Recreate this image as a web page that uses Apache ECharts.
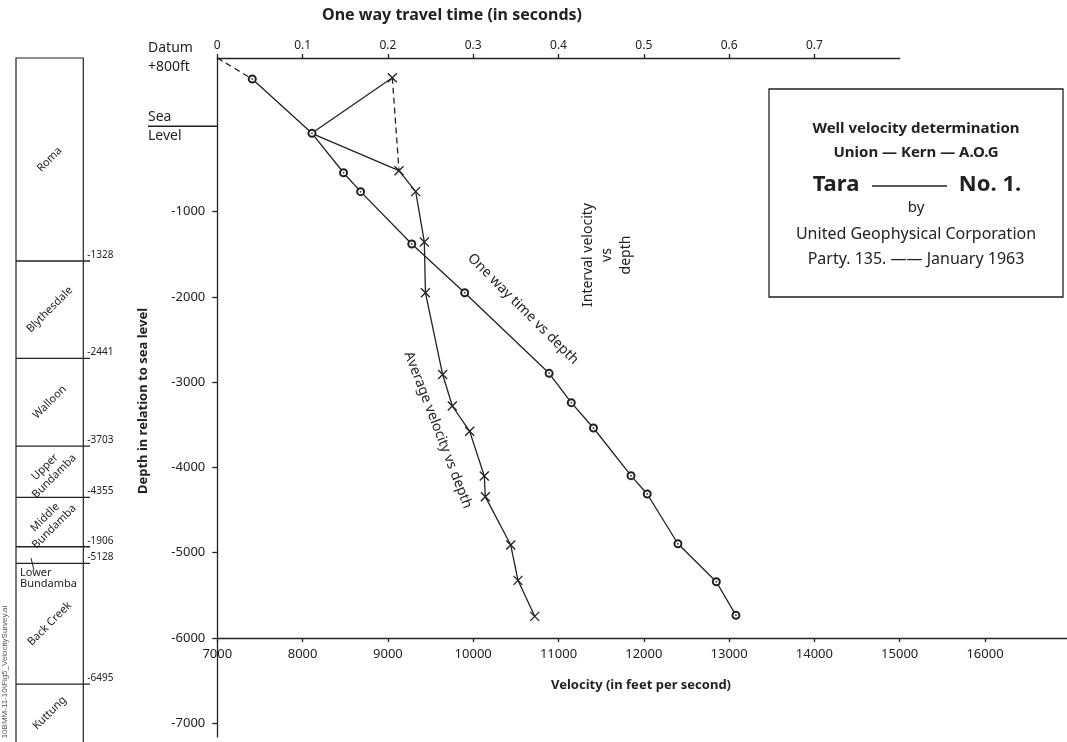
<!DOCTYPE html>
<html>
<head>
<meta charset="utf-8">
<script src="https://cdn.jsdelivr.net/npm/echarts@6/dist/echarts.min.js"></script>
<style>
  html, body { margin: 0; background: #fff; }
  #chart { width: 1067px; height: 742px; }
</style>
</head>
<body>
<div id="chart"></div>
<script>
// one way travel time (s) vs depth (ft, relative to sea level)
const owtTime  = [0.041, 0.111, 0.148, 0.168, 0.228, 0.290, 0.389, 0.415, 0.441, 0.485, 0.504, 0.540, 0.585, 0.608];
const owtDepth = [554, -83, -545, -767, -1381, -1952, -2897, -3241, -3538, -4097, -4312, -4895, -5340, -5734];
// dashed lead-in from the datum
const datumTime  = [0, 0.041];
const datumDepth = [800, 554];

// average velocity (ft/s) vs depth, first point is the shot point (no marker)
const avgVel   = [8107, 9130, 9326, 9427, 9440, 9642, 9755, 9959, 10130, 10142, 10440, 10525, 10721];
const avgDepth = [-83, -521, -767, -1357, -1952, -2911, -3280, -3577, -4101, -4343, -4910, -5324, -5746];
// upper branch above sea level and the dashed tie back down
const upperVel   = [8107, 9052];
const upperDepth = [-83, 569];
const tieVel     = [9052, 9130];
const tieDepth   = [569, -521];

// tick labels
const timeTicks  = [0, 0.1, 0.2, 0.3, 0.4, 0.5, 0.6, 0.7];
const velTicks   = [7000, 8000, 9000, 10000, 11000, 12000, 13000, 14000, 15000, 16000];
const depthTicks = [-1000, -2000, -3000, -4000, -5000, -6000, -7000];

// stratigraphic column (drawn depth, printed label)
const boundaryDepth  = [-1580, -2721, -3750, -4351, -4930, -5125, -6540];
const boundaryLabels = ['-1328', '-2441', '-3703', '-4355', '-1906', '-5128', '-6495'];
const formations = ['Roma', 'Blythesdale', 'Walloon', 'Upper\nBundamba', 'Middle\nBundamba',
                    'Lower\nBundamba', 'Back Creek', 'Kuttung'];
const columnTop = 800, columnBase = -7220;

const INK = '#222';
const FONT = '"Noto Sans", "Open Sans", sans-serif';
const K = 580 / 6800;            // px per ft on the depth scale
const depthAxisMin = -7160, columnMin = -8000;

const pairs = (xs, ys) => xs.map((x, i) => [x, ys[i]]);
const crossPath = 'path://M0,0L10,10M10,0L0,10';
const noZero = { onZero: false, lineStyle: { color: INK, width: 1.3 } };

const chart = echarts.init(document.getElementById('chart'));

const tops = [columnTop].concat(boundaryDepth);
const bottoms = boundaryDepth.concat([columnBase]);

function renderBoundary(params, api) {
  const i = params.dataIndex;
  const d = api.value(1);
  const p0 = api.coord([0, d]);
  const p1 = api.coord([1, d]);
  const ext = api.coord([1.1, d]);
  return {
    type: 'group',
    children: [
      { type: 'line', shape: { x1: p0[0], y1: p0[1], x2: ext[0], y2: p0[1] },
        style: { stroke: INK, lineWidth: 1.3 } },
      { type: 'text', x: p1[0] + 4, y: p0[1] - 1,
        style: { text: boundaryLabels[i], font: '10px ' + FONT, fill: INK,
                 align: 'left', verticalAlign: 'bottom', textAlign: 'left', textVerticalAlign: 'bottom' } }
    ]
  };
}

function renderFormation(params, api) {
  const i = params.dataIndex;
  const a = api.coord([0, api.value(1)]);
  const b = api.coord([1, api.value(2)]);
  const name = formations[i];
  if (b[1] - a[1] < 30) {
    // thin layer: label sits below with a small leader
    return {
      type: 'group',
      children: [
        { type: 'line', shape: { x1: a[0] + 15, y1: (a[1] + b[1]) / 2 + 3, x2: a[0] + 18, y2: b[1] + 7 },
          style: { stroke: INK, lineWidth: 1 } },
        { type: 'text', x: a[0] + 4, y: b[1] + 4,
          style: { text: name, font: '11px ' + FONT, fill: INK, lineHeight: 11,
                   align: 'left', verticalAlign: 'top', textAlign: 'left', textVerticalAlign: 'top' } }
      ]
    };
  }
  return {
    type: 'text', x: (a[0] + b[0]) / 2, y: (a[1] + b[1]) / 2, rotation: Math.PI / 4,
    style: { text: name, font: '11px ' + FONT, fill: INK, lineHeight: 13,
             align: 'center', verticalAlign: 'middle', textAlign: 'center', textVerticalAlign: 'middle' }
  };
}

const gridBase = { outerBoundsMode: 'none', containLabel: false };

chart.setOption({
  animation: false,
  backgroundColor: '#fff',
  textStyle: { fontFamily: FONT, color: INK },
  grid: [
    Object.assign({ left: 217.3, top: 58, width: 853, height: 580 }, gridBase),
    Object.assign({ left: 217.3, top: 58, width: 682.4, height: 580 }, gridBase),
    Object.assign({ left: 217.3, top: 58, width: 1, height: (800 - depthAxisMin) * K }, gridBase),
    Object.assign({ left: 16, top: 58, width: 67.3, height: (800 - columnMin) * K,
      show: true, borderColor: INK, borderWidth: 1.2, backgroundColor: 'transparent' }, gridBase)
  ],
  xAxis: [
    { gridIndex: 0, type: 'value', position: 'bottom', min: 7000, max: 17000,
      axisLine: noZero,
      axisTick: { customValues: velTicks, length: 4, lineStyle: { color: INK, width: 1.3 } },
      axisLabel: { customValues: velTicks, fontSize: 13, color: INK, margin: 10, formatter: v => String(v) },
      splitLine: { show: false } },
    { gridIndex: 1, type: 'value', position: 'top', min: 0, max: 0.8,
      axisLine: noZero,
      axisTick: { customValues: timeTicks, length: 4, lineStyle: { color: INK, width: 1.3 } },
      axisLabel: { customValues: timeTicks, fontSize: 12, color: INK, margin: 6,
                   formatter: v => (v === 0 ? '0' : v.toFixed(1)) },
      splitLine: { show: false } },
    { gridIndex: 2, type: 'value', show: false, min: 0, max: 1 },
    { gridIndex: 3, type: 'value', show: false, min: 0, max: 1 }
  ],
  yAxis: [
    { gridIndex: 0, type: 'value', show: false, min: -6000, max: 800 },
    { gridIndex: 1, type: 'value', show: false, min: -6000, max: 800 },
    { gridIndex: 2, type: 'value', min: depthAxisMin, max: 800,
      axisLine: Object.assign({ show: true }, noZero),
      axisTick: { customValues: depthTicks, length: 5, lineStyle: { color: INK, width: 1.3 } },
      axisLabel: { customValues: depthTicks, fontSize: 13, color: INK, margin: 12, formatter: v => String(v) },
      splitLine: { show: false } },
    { gridIndex: 3, type: 'value', show: false, min: columnMin, max: 800 }
  ],
  series: [
    { type: 'line', xAxisIndex: 1, yAxisIndex: 1, data: pairs(datumTime, datumDepth),
      symbol: 'none', lineStyle: { color: INK, width: 1.3, type: [6, 4] } },
    { type: 'line', name: 'One way time vs depth', xAxisIndex: 1, yAxisIndex: 1,
      data: pairs(owtTime, owtDepth), symbol: 'emptyCircle', symbolSize: 7,
      lineStyle: { color: INK, width: 1.3 },
      itemStyle: { color: INK, borderColor: INK, borderWidth: 1.5 }, z: 3 },
    { type: 'scatter', xAxisIndex: 1, yAxisIndex: 1, data: pairs(owtTime, owtDepth),
      symbolSize: 2, itemStyle: { color: INK }, z: 4 },
    { type: 'line', name: 'Average velocity vs depth', xAxisIndex: 0, yAxisIndex: 0,
      data: pairs(avgVel, avgDepth).map((p, i) => (i === 0 ? { value: p, symbol: 'none' } : p)),
      symbol: crossPath, symbolSize: 9,
      lineStyle: { color: INK, width: 1.3 },
      itemStyle: { color: 'rgba(0,0,0,0)', borderColor: INK, borderWidth: 1.3 } },
    { type: 'line', xAxisIndex: 0, yAxisIndex: 0,
      data: pairs(upperVel, upperDepth).map((p, i) => (i === 0 ? { value: p, symbol: 'none' } : p)),
      symbol: crossPath, symbolSize: 9,
      lineStyle: { color: INK, width: 1.3 },
      itemStyle: { color: 'rgba(0,0,0,0)', borderColor: INK, borderWidth: 1.3 } },
    { type: 'line', xAxisIndex: 0, yAxisIndex: 0, data: pairs(tieVel, tieDepth),
      symbol: 'none', lineStyle: { color: INK, width: 1.3, type: [6, 4] } },
    { type: 'custom', xAxisIndex: 3, yAxisIndex: 3, clip: false,
      data: boundaryDepth.map(d => [0, d]), encode: { x: 0, y: 1 },
      renderItem: renderBoundary },
    { type: 'custom', xAxisIndex: 3, yAxisIndex: 3, clip: false,
      data: formations.map((_, i) => [0, tops[i], bottoms[i]]), encode: { x: 0, y: [1, 2] },
      renderItem: renderFormation }
  ]
});

// annotations
const seaY = chart.convertToPixel({ yAxisIndex: 2 }, 0);
const txt = (text, x, y, font, extra) => Object.assign({
  type: 'text', x: x, y: y, silent: true,
  style: { text: text, font: font, fill: INK, align: 'center', verticalAlign: 'middle',
           textAlign: 'center', textVerticalAlign: 'middle' }
}, extra || {});
const left = (o) => { o.style.align = 'left'; o.style.textAlign = 'left'; return o; };

chart.setOption({
  graphic: [
    txt('One way travel time (in seconds)', 452, 15, 'bold 16px ' + FONT),
    left(txt('Datum', 148, 48, '14px ' + FONT)),
    left(txt('+800ft', 148, 67, '14px ' + FONT)),
    left(txt('Sea', 148, 117, '14px ' + FONT)),
    left(txt('Level', 148, 136, '14px ' + FONT)),
    { type: 'line', shape: { x1: 148, y1: seaY, x2: 217.3, y2: seaY }, style: { stroke: INK, lineWidth: 1.3 } },
    txt('Depth in relation to sea level', 143, 401, 'bold 13px ' + FONT, { rotation: Math.PI / 2 }),
    txt('Velocity (in feet per second)', 641, 685, 'bold 13px ' + FONT),
    txt('Interval velocity\nvs\ndepth', 607, 255, '14px ' + FONT,
        { rotation: Math.PI / 2, style: { text: 'Interval velocity\nvs\ndepth', font: '14px ' + FONT, fill: INK,
          lineHeight: 19, align: 'center', verticalAlign: 'middle', textAlign: 'center', textVerticalAlign: 'middle' } }),
    txt('One way time vs depth', 523, 309, '14px ' + FONT, { rotation: -Math.PI / 4 }),
    txt('Average velocity vs depth', 438, 430, '14px ' + FONT, { rotation: -69 * Math.PI / 180 }),
    { type: 'rect', shape: { x: 769, y: 89, width: 294, height: 208 },
      style: { fill: 'none', stroke: INK, lineWidth: 1.3 } },
    txt('Well velocity determination', 916, 129, 'bold 15px ' + FONT),
    txt('Union — Kern — A.O.G', 916, 153, 'bold 15px ' + FONT),
    txt('Tara', 836, 185, 'bold 22px ' + FONT),
    { type: 'line', shape: { x1: 872, y1: 186, x2: 947, y2: 186 }, style: { stroke: INK, lineWidth: 1.5 } },
    txt('No. 1.', 990, 185, 'bold 22px ' + FONT),
    txt('by', 916, 208, '15px ' + FONT),
    txt('United Geophysical Corporation', 916, 234, '16px ' + FONT),
    txt('Party. 135. —— January 1963', 916, 259, '16px ' + FONT),
    txt('10BMM-11-10\\Fig5_VelocitySurvey.ai', 5, 672, '8px "Liberation Sans Narrow", "Liberation Sans", sans-serif',
        { rotation: Math.PI / 2, style: { text: '10BMM-11-10\\Fig5_VelocitySurvey.ai',
          font: '8px "Liberation Sans Narrow", "Liberation Sans", sans-serif', fill: '#555',
          align: 'center', verticalAlign: 'middle', textAlign: 'center', textVerticalAlign: 'middle' } })
  ]
});
</script>
</body>
</html>
